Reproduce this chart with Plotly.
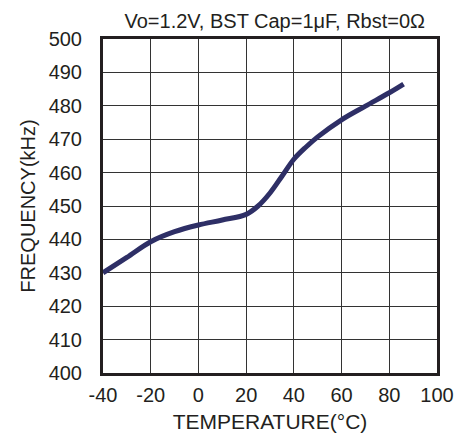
import plotly.graph_objects as go

temps = [-40, -30, -20, -10, 0, 10, 20, 25, 30, 35, 40, 45, 50, 60, 70, 80, 86]
freqs = [430.0, 434.6, 439.3, 442.3, 444.3, 445.8, 447.5, 450.0, 453.9, 458.9, 464.0, 467.6, 470.7, 475.8, 479.9, 483.9, 486.5]

x_ticks = [-40, -20, 0, 20, 40, 60, 80, 100]
y_ticks = [400, 410, 420, 430, 440, 450, 460, 470, 480, 490, 500]

title_text = "Vo=1.2V, BST Cap=1μF, Rbst=0Ω"
x_title = "TEMPERATURE(°C)"
y_title = "FREQUENCY(kHz)"

font_family = "Liberation Sans, Arial, sans-serif"
text_color = "#231f20"

fig = go.Figure()
fig.add_trace(go.Scatter(
    x=temps, y=freqs, mode="lines",
    line=dict(color="#2e2f66", width=5, shape="spline", smoothing=1.0),
    hoverinfo="skip", showlegend=False,
))

# page body has an 8px default margin; figure sized to compensate
fig.update_layout(
    width=458, height=435,
    margin=dict(l=95, r=18, t=31, b=62),
    paper_bgcolor="white", plot_bgcolor="white",
    font=dict(family=font_family, size=20, color=text_color),
    title=dict(text=title_text, x=0.5825, xanchor="center", y=0.97, yanchor="middle",
               font=dict(size=20, color=text_color)),
    showlegend=False,
)
fig.update_xaxes(
    range=[-40, 100], tickvals=x_ticks, ticktext=[str(v) for v in x_ticks],
    showgrid=True, gridcolor="#333333", gridwidth=1,
    showline=True, linecolor="#231f20", linewidth=3, mirror=True,
    zeroline=False, ticks="", ticklabelstandoff=2,
    title=dict(text=x_title, font=dict(size=21), standoff=10),
    fixedrange=True,
)
fig.update_yaxes(
    range=[400, 500], tickvals=y_ticks, ticktext=[str(v) for v in y_ticks],
    showgrid=True, gridcolor="#333333", gridwidth=1,
    showline=True, linecolor="#231f20", linewidth=3, mirror=True,
    zeroline=False, ticks="", ticklabelstandoff=14,
    title=dict(text=y_title, font=dict(size=20), standoff=8),
    fixedrange=True,
)

fig.write_html("out.html", config=dict(displayModeBar=False))
